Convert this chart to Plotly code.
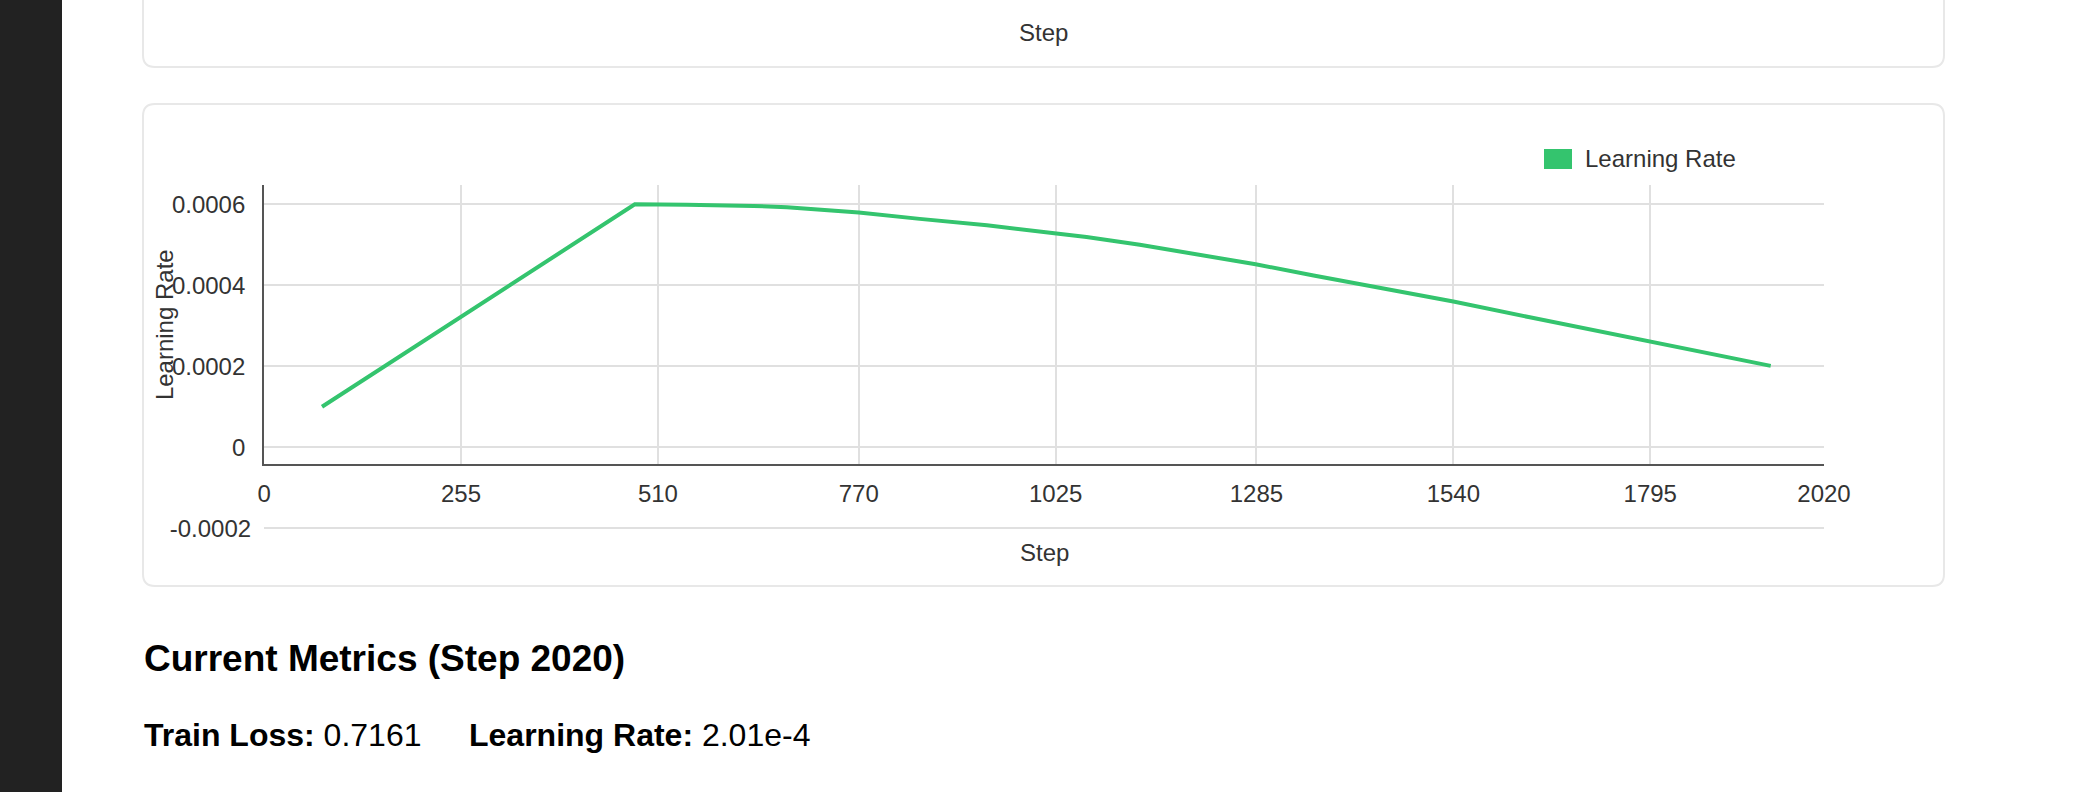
import plotly.graph_objects as go

# ---------------- data ----------------
steps = [75, 480, 547, 590, 634, 677, 770, 849, 893, 936, 1026, 1065, 1134, 1208,
         1284, 1359, 1424, 1540, 1639, 1678, 1726, 1797, 1951]
learning_rate = [1.0e-4, 6.0e-4, 5.99e-4, 5.98e-4, 5.96e-4, 5.93e-4, 5.80e-4, 5.64e-4,
                 5.56e-4, 5.48e-4, 5.28e-4, 5.19e-4, 5.0e-4, 4.77e-4, 4.52e-4, 4.24e-4,
                 4.01e-4, 3.60e-4, 3.21e-4, 3.06e-4, 2.88e-4, 2.61e-4, 2.01e-4]
x_tick_vals = [0, 255, 510, 770, 1025, 1285, 1540, 1795, 2020]
x_tick_text = ["0", "255", "510", "770", "1025", "1285", "1540", "1795", "2020"]
y_tick_vals = [0, 0.0002, 0.0004, 0.0006]
y_tick_text = ["0", "0.0002", "0.0004", "0.0006"]
y_extra_tick_vals = [-0.0002]
y_extra_tick_text = ["-0.0002"]
series_name = "Learning Rate"
current_step = 2020
train_loss = "0.7161"
current_lr = "2.01e-4"

# ---------------- layout helpers ----------------
W, H = 2088, 792
GREEN = "#34c46e"
FONT = "Liberation Sans, Arial, sans-serif"
TXT = "#333333"
GRID = "#e0e0e0"
AXIS = "#555555"


def px(x):
    return x / W


def py(y):
    return 1 - y / H


def rounded_rect(x0, y0, x1, y1, r):
    pts = [
        f"M {px(x0 + r)},{py(y0)}",
        f"L {px(x1 - r)},{py(y0)}",
        f"Q {px(x1)},{py(y0)} {px(x1)},{py(y0 + r)}",
        f"L {px(x1)},{py(y1 - r)}",
        f"Q {px(x1)},{py(y1)} {px(x1 - r)},{py(y1)}",
        f"L {px(x0 + r)},{py(y1)}",
        f"Q {px(x0)},{py(y1)} {px(x0)},{py(y1 - r)}",
        f"L {px(x0)},{py(y0 + r)}",
        f"Q {px(x0)},{py(y0)} {px(x0 + r)},{py(y0)}",
        "Z",
    ]
    return " ".join(pts)


# plot-area geometry (pixels)
PL, PR = 264.1, 1824.0
PT, PB = 185.0, 464.3
EXT_B = 540.0
SCALE = 405000.0  # pixels per unit of learning rate
Y0_PIX = 447.3    # pixel row of lr = 0
y_top = (Y0_PIX - PT) / SCALE
y_bot = (Y0_PIX - PB) / SCALE
y2_bot = (Y0_PIX - EXT_B) / SCALE

fig = go.Figure()
fig.add_trace(go.Scatter(
    x=steps, y=learning_rate, mode="lines", name=series_name,
    line=dict(color=GREEN, width=4), xaxis="x", yaxis="y",
    showlegend=False, hoverinfo="x+y",
))
# empty trace so the extended (-0.0002) grid axis is drawn
fig.add_trace(go.Scatter(x=[], y=[], xaxis="x2", yaxis="y2",
                         showlegend=False, hoverinfo="skip"))

axis_font = dict(family=FONT, size=24, color=TXT)

fig.update_layout(
    width=W, height=H,
    margin=dict(l=0, r=0, t=0, b=0),
    paper_bgcolor="white",
    plot_bgcolor="rgba(0,0,0,0)",
    template="none",
    showlegend=False,
    xaxis=dict(
        domain=[px(PL), px(PR)], range=[0, 2020], anchor="y",
        tickmode="array", tickvals=x_tick_vals, ticktext=x_tick_text,
        showgrid=True, gridcolor=GRID, gridwidth=2,
        showline=True, linecolor=AXIS, linewidth=2,
        zeroline=False, ticks="", tickfont=axis_font,
        ticklabelstandoff=7, automargin=False,
    ),
    yaxis=dict(
        domain=[py(PB), py(PT)], range=[y_bot, y_top], anchor="x",
        tickmode="array", tickvals=y_tick_vals, ticktext=y_tick_text,
        showgrid=True, gridcolor=GRID, gridwidth=2,
        showline=True, linecolor=AXIS, linewidth=2,
        zeroline=False, ticks="", tickfont=axis_font,
        ticklabelstandoff=12, automargin=False,
    ),
    xaxis2=dict(
        domain=[px(PL), px(PR)], range=[0, 2020], anchor="y2",
        showgrid=False, showline=False, zeroline=False, ticks="",
        showticklabels=False, automargin=False,
    ),
    yaxis2=dict(
        domain=[py(EXT_B), py(PT)], range=[y2_bot, y_top], anchor="x2",
        tickmode="array", tickvals=y_extra_tick_vals, ticktext=y_extra_tick_text,
        showgrid=True, gridcolor=GRID, gridwidth=2,
        showline=False, zeroline=False, ticks="", tickfont=axis_font,
        ticklabelstandoff=12, automargin=False,
    ),
)

shapes = [
    # sidebar
    dict(type="rect", xref="paper", yref="paper", x0=0, x1=px(62), y0=0, y1=1,
         fillcolor="#222222", line=dict(width=0), layer="below"),
    # previous card (bottom part visible)
    dict(type="path", xref="paper", yref="paper",
         path=rounded_rect(143, -40, 1944, 67, 12),
         fillcolor="white", line=dict(color="#e8e8e8", width=2), layer="below"),
    # chart card
    dict(type="path", xref="paper", yref="paper",
         path=rounded_rect(143, 104, 1944, 586, 12),
         fillcolor="white", line=dict(color="#e8e8e8", width=2), layer="below"),
    # legend swatch
    dict(type="rect", xref="paper", yref="paper",
         x0=px(1544), x1=px(1572), y0=py(169), y1=py(149),
         fillcolor=GREEN, line=dict(width=0)),
]
fig.update_layout(shapes=shapes)

annotations = [
    dict(text="Step", x=px(1043), y=py(33), xanchor="center", yanchor="middle",
         font=dict(family=FONT, size=24, color=TXT)),
    dict(text="Step", x=px(1044), y=py(552), xanchor="center", yanchor="middle",
         font=dict(family=FONT, size=24, color=TXT)),
    dict(text="Learning Rate", x=px(164.5), y=py(324.6), xanchor="center", yanchor="middle",
         textangle=-90, font=dict(family=FONT, size=24, color=TXT)),
    dict(text=series_name, x=px(1583), y=py(159), xanchor="left", yanchor="middle",
         font=dict(family=FONT, size=24, color=TXT)),
    dict(text=f"<b>Current Metrics (Step {current_step})</b>", x=px(142), y=py(658),
         xanchor="left", yanchor="middle",
         font=dict(family=FONT, size=37, color="#000000")),
    dict(text=f"<b>Train Loss:</b> {train_loss}", x=px(142), y=py(735),
         xanchor="left", yanchor="middle",
         font=dict(family=FONT, size=32, color="#000000")),
    dict(text=f"<b>Learning Rate:</b> {current_lr}", x=px(467), y=py(735),
         xanchor="left", yanchor="middle",
         font=dict(family=FONT, size=32, color="#000000")),
]
for a in annotations:
    a.update(xref="paper", yref="paper", showarrow=False)
fig.update_layout(annotations=annotations)

fig.write_html(
    "out.html",
    config={"displayModeBar": False},
    post_script="document.body.style.margin='0px';document.body.style.overflow='hidden';",
)
